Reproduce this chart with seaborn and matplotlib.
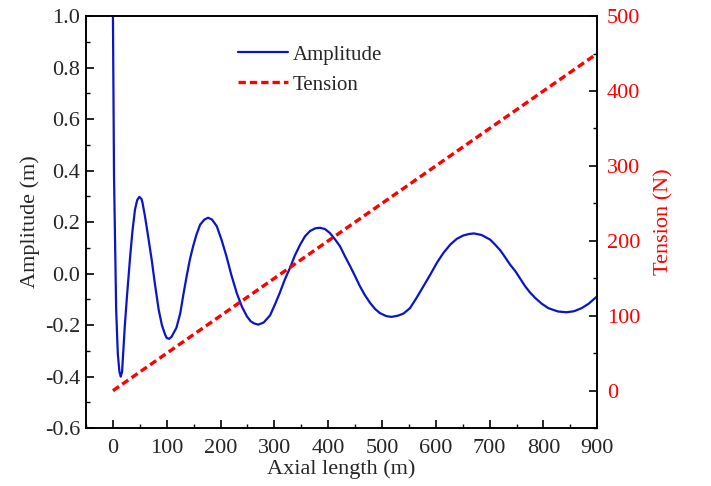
import matplotlib
matplotlib.use("Agg")
import matplotlib.pyplot as plt
from matplotlib.ticker import MultipleLocator
import seaborn as sns
import pandas as pd

# Amplitude curve, values
axial_m = [0, 2, 6, 9, 12, 14.5, 17, 22, 26, 31.5, 36, 41, 45, 49, 53, 55, 59.5,
           65, 72, 78, 85, 91, 97, 100, 104.5, 109, 118, 125, 131, 137, 143, 149,
           155, 162, 170, 177, 184, 193, 202, 211, 220, 230, 240, 249, 256, 262,
           270, 280, 292, 301, 310, 319, 329, 338, 348, 357, 366, 376, 385, 394,
           403, 412, 422, 431, 441, 450, 459, 468, 478, 487, 496, 508, 518, 530,
           540, 552, 564, 577, 590, 602, 614, 627, 639, 651, 662, 671, 685, 701,
           710, 720, 729, 738, 748, 757, 766, 775, 785, 797, 809, 827, 843, 857,
           871, 884, 896, 900]
amplitude_m = [1.0, 0.38, -0.14, -0.31, -0.38, -0.40, -0.38, -0.205, -0.09, 0.054,
               0.16, 0.249, 0.285, 0.298, 0.29, 0.275, 0.223,
               0.15, 0.054, -0.04, -0.14, -0.2, -0.237, -0.25, -0.253, -0.245,
               -0.21, -0.155, -0.08, -0.01, 0.055, 0.106,
               0.15, 0.19, 0.21, 0.217, 0.21, 0.184, 0.13, 0.067, -0.005, -0.075,
               -0.13, -0.166, -0.185, -0.193,
               -0.198, -0.19, -0.162, -0.12, -0.075, -0.025, 0.022, 0.07, 0.113,
               0.145, 0.165, 0.176, 0.178, 0.173,
               0.158, 0.135, 0.106, 0.068, 0.028, -0.01, -0.049, -0.083, -0.114,
               -0.137, -0.153, -0.165, -0.168, -0.163,
               -0.155, -0.134, -0.095, -0.049, -0.003, 0.042, 0.08, 0.113, 0.135,
               0.148, 0.154, 0.156, 0.15, 0.132,
               0.113, 0.09, 0.063, 0.035, 0.009, -0.02, -0.049, -0.073, -0.095,
               -0.117, -0.134, -0.147, -0.150, -0.146,
               -0.134, -0.117, -0.095, -0.088]

# Tension grows linearly along the cable
tension_x = [0, 900]
tension_n = [0, 450]

sns.set_theme(style="ticks")
plt.rcParams['font.family'] = ['Liberation Serif', 'DejaVu Serif']

amp_df = pd.DataFrame({'x': axial_m, 'y': amplitude_m})
ten_df = pd.DataFrame({'x': tension_x, 'y': tension_n})

fig = plt.figure(figsize=(7.11, 4.86), dpi=100)
ax = fig.add_axes([0.121, 0.119, 0.719, 0.848])
ax2 = ax.twinx()

sns.lineplot(data=amp_df, x='x', y='y', ax=ax, color='#0A14C8', linewidth=1.6,
             label='Amplitude', legend=False, sort=False)
sns.lineplot(data=ten_df, x='x', y='y', ax=ax2, color='#FF0000', linewidth=2.4,
             label='Tension', legend=False)
ax2.lines[0].set_dashes([2.2, 1.2])

ax.set_xlim(-50, 900)
ax.set_ylim(-0.6, 1.0)
ax2.set_ylim(-50, 500)

ax.xaxis.set_major_locator(MultipleLocator(100))
ax.xaxis.set_minor_locator(MultipleLocator(50))
ax.yaxis.set_major_locator(MultipleLocator(0.2))
ax.yaxis.set_minor_locator(MultipleLocator(0.1))
ax2.yaxis.set_major_locator(MultipleLocator(100))
ax2.yaxis.set_minor_locator(MultipleLocator(50))
ax.yaxis.set_major_formatter(plt.FormatStrFormatter('%.1f'))

fs = 16
ax.set_xlabel('Axial length (m)', fontsize=fs, labelpad=1)
ax.set_ylabel('Amplitude (m)', fontsize=fs, labelpad=4)
ax2.set_ylabel('Tension (N)', fontsize=fs, color='#FF0000', labelpad=10)

for a in (ax, ax2):
    a.tick_params(which='major', direction='in', length=6, width=1.2,
                  labelsize=fs, color='black')
    a.tick_params(which='minor', direction='in', length=3, width=1.0, color='black')
    for s in a.spines.values():
        s.set_linewidth(1.2)
        s.set_color('black')
ax2.tick_params(axis='y', labelcolor='#FF0000')
ax.tick_params(axis='x', pad=8)
ax.tick_params(axis='y', pad=4)
ax2.tick_params(axis='y', pad=7)

handles = ax.get_lines()[:1] + ax2.get_lines()[:1]
ax2.legend(handles, ['Amplitude', 'Tension'], loc='upper left',
           bbox_to_anchor=(0.26, 0.975), frameon=False, fontsize=15,
           handlelength=2.4, labelspacing=0.5, handletextpad=0.25)

fig.savefig('out.png', dpi=100)
